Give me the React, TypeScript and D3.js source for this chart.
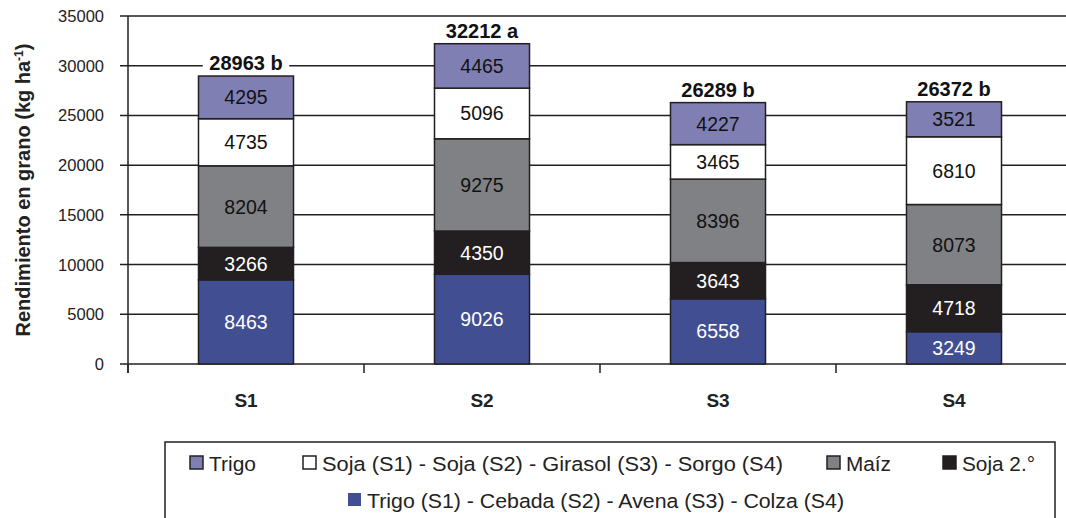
import * as d3 from 'd3';

// Rotation systems and their crop yields (kg/ha), stacked bottom -> top
const systems = ['S1', 'S2', 'S3', 'S4'];
const crops = ['invierno', 'soja2', 'maiz', 'verano', 'trigo'];
const cropColors = ['#414f92', '#231f20', '#808184', '#ffffff', '#7f7fb4'];
const labelColors = ['#ffffff', '#ffffff', '#111111', '#111111', '#111111'];

const invierno = [8463, 9026, 6558, 3249];
const soja2 = [3266, 4350, 3643, 4718];
const maiz = [8204, 9275, 8396, 8073];
const verano = [4735, 5096, 3465, 6810];
const trigo = [4295, 4465, 4227, 3521];

const totals = ['28963 b', '32212 a', '26289 b', '26372 b'];
const yTicks = [0, 5000, 10000, 15000, 20000, 25000, 30000, 35000];

const legendRow1 = [
  { label: 'Trigo', crop: 4 },
  { label: 'Soja (S1) - Soja (S2) - Girasol (S3) - Sorgo (S4)', crop: 3 },
  { label: 'Maíz', crop: 2 },
  { label: 'Soja 2.°', crop: 1 },
];
const legendRow2 = [{ label: 'Trigo (S1) - Cebada (S2) - Avena (S3) - Colza (S4)', crop: 0 }];

const W = 1066;
const H = 518;
const margin = { left: 128, right: -6, top: 16, bottom: 154 };
const font = '"Liberation Sans", Arial, Helvetica, sans-serif';
const ink = '#231f20';

export default function App() {
  const values = [invierno, soja2, maiz, verano, trigo];
  const table = systems.map((s, i) => {
    const row: any = { system: s };
    crops.forEach((c, k) => (row[c] = values[k][i]));
    return row;
  });
  const series = d3.stack<any>().keys(crops)(table);

  const x = d3.scaleBand().domain(systems).range([margin.left, W - margin.right]);
  const y = d3.scaleLinear().domain([0, 35000]).range([H - margin.bottom, margin.top]);
  const barW = 95;
  const x0 = margin.left;
  const x1 = W - margin.right;
  const y0 = y(0);

  // legend layout (swatch x, text width)
  const legendX1 = [190, 303, 827, 943];
  const legendW1 = [47, 461, 45, 73];
  const legendX2 = [348];
  const legendW2 = [477];

  return (
    <div style={{ position: 'absolute', left: 0, top: 0 }}>
      <svg width={W} height={H} style={{ display: 'block', background: '#fff' }} fontFamily={font}>
        {/* grid + y ticks */}
        {yTicks.map(t => (
          <g key={t}>
            <line x1={x0 - 8} x2={x1} y1={y(t)} y2={y(t)} stroke={ink} strokeWidth={1.5} />
            <text x={104} y={y(t)} dy="0.36em" textAnchor="end" fontSize={16.5} fill="#222">
              {t}
            </text>
          </g>
        ))}
        {/* y axis */}
        <line x1={x0} x2={x0} y1={y(35000)} y2={y0 + 9} stroke={ink} strokeWidth={1.5} />
        {/* category ticks */}
        {systems.map(s => (
          <line key={s} x1={x(s)!} x2={x(s)!} y1={y0} y2={y0 + 9} stroke={ink} strokeWidth={1.5} />
        ))}

        {/* stacked bars */}
        {series.map((ser, k) =>
          ser.map((d, i) => {
            const bx = x(systems[i])! + x.bandwidth() / 2 - barW / 2;
            const top = y(d[1]);
            const bot = y(d[0]);
            return (
              <g key={`${k}-${i}`}>
                <rect x={bx} y={top} width={barW} height={bot - top} fill={cropColors[k]} stroke={ink} strokeWidth={1.5} />
                <text
                  x={bx + barW / 2}
                  y={(top + bot) / 2}
                  dy="0.36em"
                  textAnchor="middle"
                  fontSize={19.5}
                  fill={labelColors[k]}
                >
                  {values[k][i]}
                </text>
              </g>
            );
          })
        )}

        {/* totals */}
        {systems.map((s, i) => {
          const top = y(series[series.length - 1][i][1]);
          const cx = x(s)! + x.bandwidth() / 2;
          const w = totals[i].length * 11.5 + 6;
          return (
            <g key={s}>
              <rect x={cx - w / 2} y={top - 24} width={w} height={20} fill="#fff" />
              <text x={cx} y={top - 6} textAnchor="middle" fontSize={20} fontWeight="bold" fill="#111">
                {totals[i]}
              </text>
            </g>
          );
        })}

        {/* x labels */}
        {systems.map(s => (
          <text key={s} x={x(s)! + x.bandwidth() / 2} y={407} textAnchor="middle" fontSize={19} fontWeight="bold" fill="#222">
            {s}
          </text>
        ))}

        {/* y title */}
        <text
          transform={`translate(30, 190) rotate(-90)`}
          textAnchor="middle"
          fontSize={20}
          fontWeight="bold"
          fill="#222"
        >
          Rendimiento en grano (kg ha
          <tspan baselineShift="super" fontSize={12}>-1</tspan>)
        </text>

        {/* legend */}
        <rect x={165} y={442} width={890} height={90} fill="#fff" stroke={ink} strokeWidth={1.5} />
        {legendRow1.map((it, j) => (
          <g key={it.label}>
            <rect
              x={legendX1[j]}
              y={456}
              width={13}
              height={13}
              fill={cropColors[it.crop]}
              stroke={ink}
              strokeWidth={1.5}
            />
            <text
              x={legendX1[j] + 19}
              y={471}
              fontSize={20.5}
              fill="#222"
              textLength={legendW1[j]}
              lengthAdjust="spacingAndGlyphs"
            >
              {it.label}
            </text>
          </g>
        ))}
        {legendRow2.map((it, j) => (
          <g key={it.label}>
            <rect x={legendX2[j]} y={493} width={13} height={13} fill={cropColors[it.crop]} />
            <text
              x={legendX2[j] + 19}
              y={508}
              fontSize={20.5}
              fill="#222"
              textLength={legendW2[j]}
              lengthAdjust="spacingAndGlyphs"
            >
              {it.label}
            </text>
          </g>
        ))}
      </svg>
    </div>
  );
}
